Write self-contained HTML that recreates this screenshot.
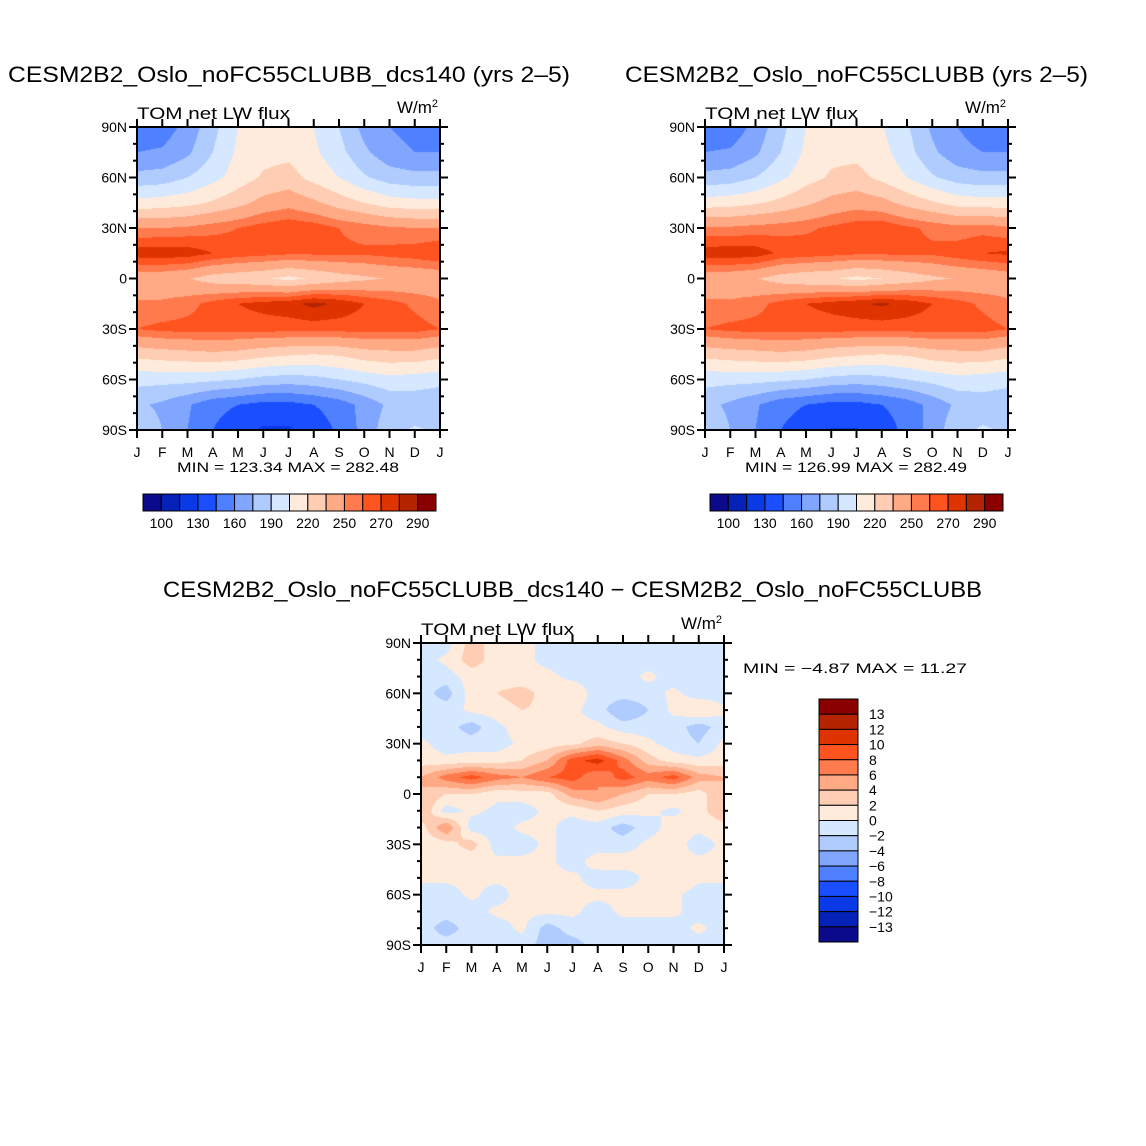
<!DOCTYPE html>
<html><head><meta charset="utf-8">
<style>
html,body{margin:0;padding:0;background:#fff;}
#wrap{position:relative;width:1146px;height:1146px;overflow:hidden;}
canvas{position:absolute;}
svg{position:absolute;left:0;top:0;}
text{font-family:"Liberation Sans",sans-serif;fill:#000;}
</style></head>
<body>
<div id="wrap">
<canvas id="c1"></canvas>
<canvas id="c2"></canvas>
<canvas id="c3"></canvas>
<svg id="s" width="1146" height="1146"></svg>
</div>
<script>
// ---- data ----
const months = ["J","F","M","A","M","J","J","A","S","O","N","D","J"];
const latTicks = ["90N","60N","30N","0","30S","60S","90S"];
const lats15 = [90,75,60,45,30,15,0,-15,-30,-45,-60,-75,-90];
const lats10 = [90,80,70,60,50,40,30,20,10,0,-10,-20,-30,-40,-50,-60,-70,-80,-90];
const absLevels = [100,115,130,145,160,175,190,205,220,235,250,260,270,280,290];
const absLabels = ["100","130","160","190","220","250","270","290"];
const diffLevels = [-13,-12,-10,-8,-6,-4,-2,0,2,4,6,8,10,12,13];
const diffLabels = ["13","12","10","8","6","4","2","0","\u22122","\u22124","\u22126","\u22128","\u221210","\u221212","\u221213"];
const colors = ["#0a0a8a","#0522b8","#0a3ae6","#1a4fff","#4f80ff","#80a6ff","#b0ccff","#d6e8ff","#ffebdb","#ffcdb4","#ffaa85","#ff7a4d","#ff5320","#e03400","#b52400","#8a0000"];

const fluxA = [
[150,152,165,185,205,212,212,205,190,170,160,155,150],
[160,162,172,190,208,215,216,208,195,178,165,160,160],
[180,182,190,200,212,222,226,215,205,192,183,180,180],
[210,212,215,222,230,240,245,238,228,220,212,210,210],
[250,250,252,256,260,265,268,266,260,256,252,250,250],
[276,277,276,270,266,264,262,262,262,262,264,266,270],
[240,240,236,228,225,222,216,222,228,232,236,238,240],
[252,252,256,264,270,274,277,283,278,270,264,258,252],
[260,263,264,264,264,264,264,264,264,264,264,264,260],
[225,228,230,232,230,225,222,220,222,228,230,230,225],
[195,195,195,193,190,185,183,185,190,195,200,198,195],
[178,172,162,150,145,140,140,145,152,165,178,180,178],
[188,175,160,145,135,128,128,135,148,165,185,192,188]];
const fluxB = [
[148,150,165,185,205,212,212,206,192,172,160,152,148],
[160,162,172,190,208,216,216,210,196,178,165,160,160],
[180,182,190,202,214,222,225,216,205,192,183,180,180],
[212,214,218,224,232,240,244,240,230,222,214,212,212],
[252,252,254,256,258,262,266,268,262,258,254,256,252],
[276,277,276,268,266,264,262,262,262,262,266,270,272],
[242,240,236,228,224,222,216,220,226,232,236,238,242],
[252,252,256,264,270,274,278,282,277,270,264,258,252],
[260,263,264,264,264,264,264,264,264,264,264,264,260],
[225,228,230,232,230,225,222,220,222,228,230,230,225],
[195,195,195,193,190,185,183,185,190,195,200,198,195],
[180,172,162,150,145,140,140,145,152,165,178,182,180],
[188,175,160,145,136,129,129,136,150,166,186,192,188]];
const diff = [
[-1,-1,3,1,0.5,-0.5,-1,-1,-1,-1,-0.5,-1,-1],
[-1,0.5,3,1,0.5,-0.5,-1,-1,-1,-1,-1,-1,-1],
[-1,-1,1,1,0.5,0.5,-0.5,-1,-1,0.5,-1,-1,-1],
[-1,-3,1,2,3,1,1.5,-1,-1,-1,0.5,-1,-1],
[-0.5,-1,0.5,1,2,1.5,0.5,-1,-4,-2,0.5,2,0.5],
[-1,-1,-3,-0.5,1,0.5,0.5,0.5,-1,-1,-1,-3,-1],
[0.5,-1,-1,-1,0.5,1,1.5,3,2,0.5,-1,-2,0.5],
[1,0.5,1,1,2,4,9,11,7,3,1,0.5,1],
[4,7,9,7,6,8,9,6,9,7,9,5,4],
[4,2,2,0.5,1,1,5,6,4,2,2,1,4],
[4,-1,0.5,-0.5,-1,0.5,0.5,2,1,0.5,-0.5,1,4],
[1,6,-1,-1,0.5,0.5,-1,-1,-3,-1,1,0.5,1],
[0.5,1,3,-1,-1,0.5,-1,-1,-1,0.5,1,-1,0.5],
[0.5,0.5,0.5,0.5,0.5,0.5,-1,1,1,0.5,0.5,0.5,0.5],
[0.5,0.5,0.5,0.5,0.5,0.5,0.5,-1,-1,0.5,2,0.5,0.5],
[-1,-1,0.5,-1,1,0.5,0.5,0.5,0.5,0.5,0.5,-1,-1],
[-1,-1,-1,0.5,0.5,0.5,0.5,-1,0.5,0.5,0.5,-1,-1],
[-1,-3,-1,-1,0.5,-3,-1,-1,-1,-1,-1,0.5,-1],
[-1,-1,-1,-1,-1,-3,-3,-1,-1,-1,-1,-1,-1]];

const NS="http://www.w3.org/2000/svg";
const svg=document.getElementById('s');
function mk(tag,attrs,parent){const e=document.createElementNS(NS,tag);for(const k in attrs)e.setAttribute(k,attrs[k]);(parent||svg).appendChild(e);return e;}
function txt(x,y,s,size,anchor,parent,name,len){const t=mk('text',{x:x,y:y,'font-size':size,'text-anchor':anchor||'start'},parent);if(len){t.setAttribute('textLength',len);t.setAttribute('lengthAdjust','spacingAndGlyphs');}t.textContent=s;


return t;}
function levelIndex(v,levels){let i=0;while(i<levels.length&&v>=levels[i])i++;return i;}

function drawPanel(cid,x0,y0,w,h,grid,lats,levels){
  const cv=document.getElementById(cid);cv.width=w;cv.height=h;cv.style.left=x0+'px';cv.style.top=y0+'px';
  const ctx=cv.getContext('2d');
  const nx=grid[0].length, ny=lats.length;
  const step=1;
  for(let py=0;py<h;py+=step){
    const lat=90-(py+step/2)/h*180;
    let j=0;while(j<ny-2&&lat<lats[j+1])j++;
    const ty=(lats[j]-lat)/(lats[j]-lats[j+1]);
    for(let px=0;px<w;px+=step){
      const fx=(px+step/2)/w*(nx-1);const i=Math.min(nx-2,Math.floor(fx));const tx=fx-i;
      const v=(grid[j][i]*(1-tx)+grid[j][i+1]*tx)*(1-ty)+(grid[j+1][i]*(1-tx)+grid[j+1][i+1]*tx)*ty;
      ctx.fillStyle=colors[levelIndex(v,levels)];
      ctx.fillRect(px,py,step,step);
    }
  }
}
function axes(x0,y0,w,h,name){
  const g=mk('g',{});
  
  
  mk('rect',{x:x0,y:y0,width:w,height:h,fill:'none',stroke:'#000','stroke-width':2},g);
  for(let i=0;i<13;i++){const x=x0+i/12*w;
    mk('line',{x1:x,x2:x,y1:y0,y2:y0-8,stroke:'#000','stroke-width':2},g);
    mk('line',{x1:x,x2:x,y1:y0+h,y2:y0+h+8,stroke:'#000','stroke-width':2},g);
    txt(x,y0+h+27,months[i],14,'middle',g,'x-tick-label');}
  for(let k=0;k<=18;k++){const y=y0+k/18*h;const L=k%3===0?8:4;
    mk('line',{x1:x0,x2:x0-L,y1:y,y2:y,stroke:'#000','stroke-width':2},g);
    mk('line',{x1:x0+w,x2:x0+w+L,y1:y,y2:y,stroke:'#000','stroke-width':2},g);}
  latTicks.forEach((s,k)=>txt(x0-10,y0+k/6*h+5,s,14,'end',g,'y-tick-label'));
  txt(x0,y0-8,'TOM net LW flux',17,'start',g,'panel-subtitle',153);
  const u=txt(x0+w-2,y0-14,'W/m',17,'end',g,'units-label');
  const sup=mk('tspan',{dy:-6,'font-size':11},u);sup.textContent='2';
}
function hbar(x0,y0,w,h,name){
  const g=mk('g',{});
  
  
  const bw=w/colors.length;
  colors.forEach((c,i)=>mk('rect',{x:x0+i*bw,y:y0,width:bw,height:h,fill:c,stroke:'#000','stroke-width':1},g));
  absLabels.forEach((s,k)=>txt(x0+(2*k+1)*bw,y0+h+17,s,14,'middle',g,'colorbar-label'));
}
drawPanel('c1',137,127,303,303,fluxA,lats15,absLevels);
drawPanel('c2',705,127,303,303,fluxB,lats15,absLevels);
drawPanel('c3',421,643,303,302,diff,lats10,diffLevels);
axes(137,127,303,303,'panel-dcs140');
axes(705,127,303,303,'panel-control');
axes(421,643,303,302,'panel-diff');
txt(8,82,'CESM2B2_Oslo_noFC55CLUBB_dcs140 (yrs 2\u20135)',22,'start',null,'title-dcs140',562);
txt(625,82,'CESM2B2_Oslo_noFC55CLUBB (yrs 2\u20135)',22,'start',null,'title-control',463);
txt(163,597,'CESM2B2_Oslo_noFC55CLUBB_dcs140 \u2212 CESM2B2_Oslo_noFC55CLUBB',22,'start',null,'title-difference',819);
txt(177,472,'MIN = 123.34 MAX = 282.48',14,'start',null,'minmax-dcs140',222);
txt(745,472,'MIN = 126.99 MAX = 282.49',14,'start',null,'minmax-control',222);
txt(743,673,'MIN =  \u22124.87 MAX =  11.27',14,'start',null,'minmax-diff',224);
hbar(143,494,293,17,'colorbar-dcs140');
hbar(710,494,293,17,'colorbar-control');
(function(){
  const g=mk('g',{});
  
  
  const x0=819,y0=699,w=39,h=243,bh=h/colors.length;
  colors.slice().reverse().forEach((c,i)=>mk('rect',{x:x0,y:y0+i*bh,width:w,height:bh,fill:c,stroke:'#000','stroke-width':1},g));
  diffLabels.forEach((s,k)=>txt(x0+w+11,y0+(k+1)*bh+5,s,14,'start',g,'colorbar-label'));
})();
</script>
</body></html>
